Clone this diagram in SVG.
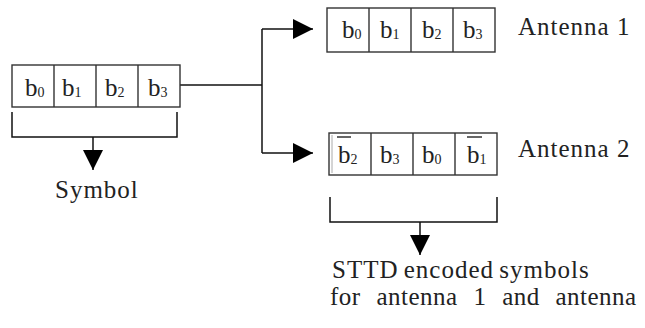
<svg xmlns="http://www.w3.org/2000/svg" width="645" height="328" viewBox="0 0 645 328">
<style>
.box{fill:#fff;stroke:#333;stroke-width:1.4}
.div{stroke:#333;stroke-width:1.4}
.conn{fill:none;stroke:#111;stroke-width:1.5}
.t{font-family:"Liberation Serif","Times New Roman",serif;font-size:25px;fill:#222;letter-spacing:1px}
.b{font-family:"Liberation Serif","Times New Roman",serif;font-size:25px;fill:#222}
.s{font-size:14px}
.bar{stroke:#666;stroke-width:2}
</style>
<defs>
<marker id="ah" markerUnits="userSpaceOnUse" markerWidth="20" markerHeight="20" refX="20" refY="10" orient="auto">
<path d="M0,0 L20,10 L0,20 z" fill="#000"/>
</marker>
</defs>
<rect width="645" height="328" fill="#fff"/>
<g id="connectors">
<path class="conn" d="M180,85 H262"/>
<path class="conn" d="M262,29 V153"/>
<path class="conn" d="M262,29 H313" marker-end="url(#ah)"/>
<path class="conn" d="M262,153 H313" marker-end="url(#ah)"/>
<path class="conn" d="M12,112 V137 H177 V112"/>
<path class="conn" d="M93,137 V170" marker-end="url(#ah)"/>
<path class="conn" d="M330,197 V222 H497 V197"/>
<path class="conn" d="M420,222 V255" marker-end="url(#ah)"/>
</g>
<g id="symbol-box">
<rect class="box" x="12" y="65" width="168" height="42"/>
<line class="div" x1="54" y1="65" x2="54" y2="107"/>
<line class="div" x1="96" y1="65" x2="96" y2="107"/>
<line class="div" x1="138" y1="65" x2="138" y2="107"/>
<text class="b" x="25" y="96">b<tspan class="s" dy="1">0</tspan></text>
<text class="b" x="62" y="96">b<tspan class="s" dy="1">1</tspan></text>
<text class="b" x="105" y="96">b<tspan class="s" dy="1">2</tspan></text>
<text class="b" x="148" y="96">b<tspan class="s" dy="1">3</tspan></text>
</g>
<g id="symbol-label">
<text class="t" x="55" y="198">Symbol</text>
</g>
<g id="antenna1-box">
<rect class="box" x="327" y="8" width="168" height="44"/>
<line class="div" x1="369" y1="8" x2="369" y2="52"/>
<line class="div" x1="411" y1="8" x2="411" y2="52"/>
<line class="div" x1="453" y1="8" x2="453" y2="52"/>
<text class="b" x="342" y="38">b<tspan class="s" dy="1">0</tspan></text>
<text class="b" x="380" y="38">b<tspan class="s" dy="1">1</tspan></text>
<text class="b" x="422" y="38">b<tspan class="s" dy="1">2</tspan></text>
<text class="b" x="463" y="38">b<tspan class="s" dy="1">3</tspan></text>
<text class="t" x="518" y="35">Antenna 1</text>
</g>
<g id="antenna2-box">
<rect class="box" x="329" y="133" width="168" height="42"/>
<line class="div" x1="371" y1="133" x2="371" y2="175"/>
<line class="div" x1="413" y1="133" x2="413" y2="175"/>
<line class="div" x1="455" y1="133" x2="455" y2="175"/>
<line x1="332" y1="135" x2="332" y2="173" stroke="#aaa" stroke-width="1"/>
<text class="b" x="338" y="163">b<tspan class="s" dy="1">2</tspan></text>
<line class="bar" x1="337" y1="137" x2="351" y2="137"/>
<text class="b" x="380" y="163">b<tspan class="s" dy="1">3</tspan></text>
<text class="b" x="422" y="163">b<tspan class="s" dy="1">0</tspan></text>
<text class="b" x="467" y="163">b<tspan class="s" dy="1">1</tspan></text>
<line class="bar" x1="467" y1="137" x2="482" y2="137"/>
<text class="t" x="518" y="157">Antenna 2</text>
</g>
<g id="stt-label">
<text class="t" x="332" y="278" word-spacing="-2">STTD encoded symbols</text>
<text class="t" x="330" y="305" word-spacing="9" style="letter-spacing:0.5px">for antenna 1 and antenna</text>
</g>
</svg>
